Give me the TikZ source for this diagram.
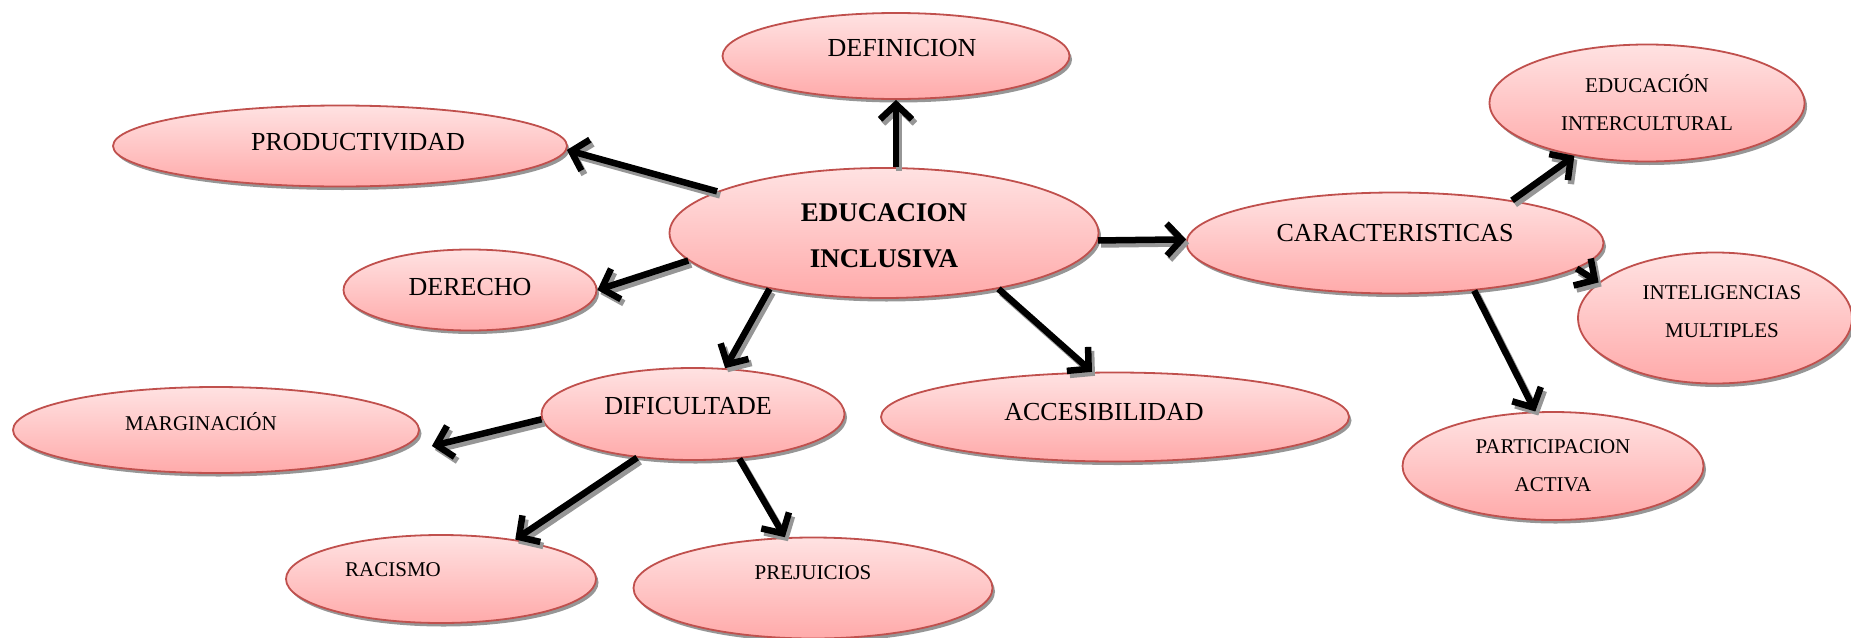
\documentclass[tikz,border=0pt]{standalone}
\usepackage{fontspec}
\setmainfont{Liberation Serif}
\usepackage{tikz}
\usetikzlibrary{arrows.meta,shapes,shadows,calc,positioning}
\definecolor{rosaClaro}{RGB}{255,226,226}
\definecolor{rosaFuerte}{RGB}{255,170,170}
\definecolor{rojoBorde}{RGB}{192,80,77}
\definecolor{grisSombra}{RGB}{150,150,150}
\tikzstyle{burbuja}=[ellipse, draw=rojoBorde, line width=1.8pt,
                     top color=rosaClaro, bottom color=rosaFuerte,
                     drop shadow={shadow xshift=2.5pt, shadow yshift=-3.5pt,
                                  fill=grisSombra, opacity=1},
                     inner sep=0pt]
\tikzstyle{flecha}=[-{Straight Barb[length=15pt,width=32pt]}, line width=6.5pt]
\tikzstyle{sombra}=[flecha, draw=grisSombra,
                    transform canvas={shift={(3pt,-4pt)}}]
\tikzstyle{grande}=[font=\fontsize{26}{30}\selectfont]
\tikzstyle{chico}=[font=\fontsize{21}{38}\selectfont, align=center]
\tikzstyle{titulo}=[font=\fontsize{27}{46}\selectfont\bfseries, align=center]
\begin{document}
\begin{tikzpicture}[x=1pt,y=-1pt]
    \useasboundingbox (0,0) rectangle (1851,637);

    % centro
    \draw (884,233) node (inc) [burbuja, minimum width=429pt, minimum height=130pt,
        label={[titulo, yshift=-3pt]center:{EDUCACION\\INCLUSIVA}}] {};

    % primer nivel
    \draw (896,56) node (def) [burbuja, minimum width=347pt, minimum height=86pt,
        label={[grande, xshift=6pt, yshift=8pt]center:DEFINICION}] {};
    \draw (340,146) node (prod) [burbuja, minimum width=454pt, minimum height=81pt,
        label={[grande, xshift=18pt, yshift=4pt]center:PRODUCTIVIDAD}] {};
    \draw (470,290) node (der) [burbuja, minimum width=253pt, minimum height=81pt,
        label={[grande, yshift=3pt]center:DERECHO}] {};
    \draw (693,414) node (dif) [burbuja, minimum width=303pt, minimum height=92pt,
        label={[grande, xshift=-5pt, yshift=8pt]center:DIFICULTADE}] {};
    \draw (1115,417) node (acc) [burbuja, minimum width=468pt, minimum height=89pt,
        label={[grande, xshift=-11pt, yshift=5pt]center:ACCESIBILIDAD}] {};
    \draw (1395,243) node (car) [burbuja, minimum width=417pt, minimum height=101pt,
        label={[grande, yshift=10pt]center:CARACTERISTICAS}] {};

    % caracteristicas
    \draw (1647,103) node (inter) [burbuja, minimum width=315pt, minimum height=117pt,
        label={[chico]center:{EDUCACI\'ON\\INTERCULTURAL}}] {};
    \draw (1715,318) node (intel) [burbuja, minimum width=274pt, minimum height=131pt,
        label={[chico, xshift=7pt, yshift=6pt]center:{INTELIGENCIAS\\MULTIPLES}}] {};
    \draw (1553,466) node (part) [burbuja, minimum width=301pt, minimum height=108pt,
        label={[chico]center:{PARTICIPACION\\ACTIVA}}] {};

    % dificultades
    \draw (216,430) node (marg) [burbuja, minimum width=406pt, minimum height=86pt,
        label={[chico, xshift=-15pt, yshift=8pt]center:MARGINACI\'ON}] {};
    \draw (441,579) node (rac) [burbuja, minimum width=310pt, minimum height=88pt,
        label={[chico, xshift=-48pt, yshift=9pt]center:RACISMO}] {};
    \draw (813,588) node (pre) [burbuja, minimum width=359pt, minimum height=101pt,
        label={[chico, yshift=15pt]center:PREJUICIOS}] {};

    \coordinate (margPunta) at ([xshift=12pt, yshift=-16pt]marg.east);

    % flechas con sombra
    \foreach \capa in {sombra,flecha}
        \foreach \i/\j in {inc.north -| def/def.south, inc.166/prod.359,
                           inc.188/der.east, inc.206/dif.55, inc.334/acc.117,
                           inc.358/car.179, car.20/inter.216, car.352/intel.163,
                           car.329/part.108, dif.182/margPunta, dif.218/rac.28,
                           dif.316/pre.119}
            \draw [\capa] (\i) to (\j);

\end{tikzpicture}
\end{document}
